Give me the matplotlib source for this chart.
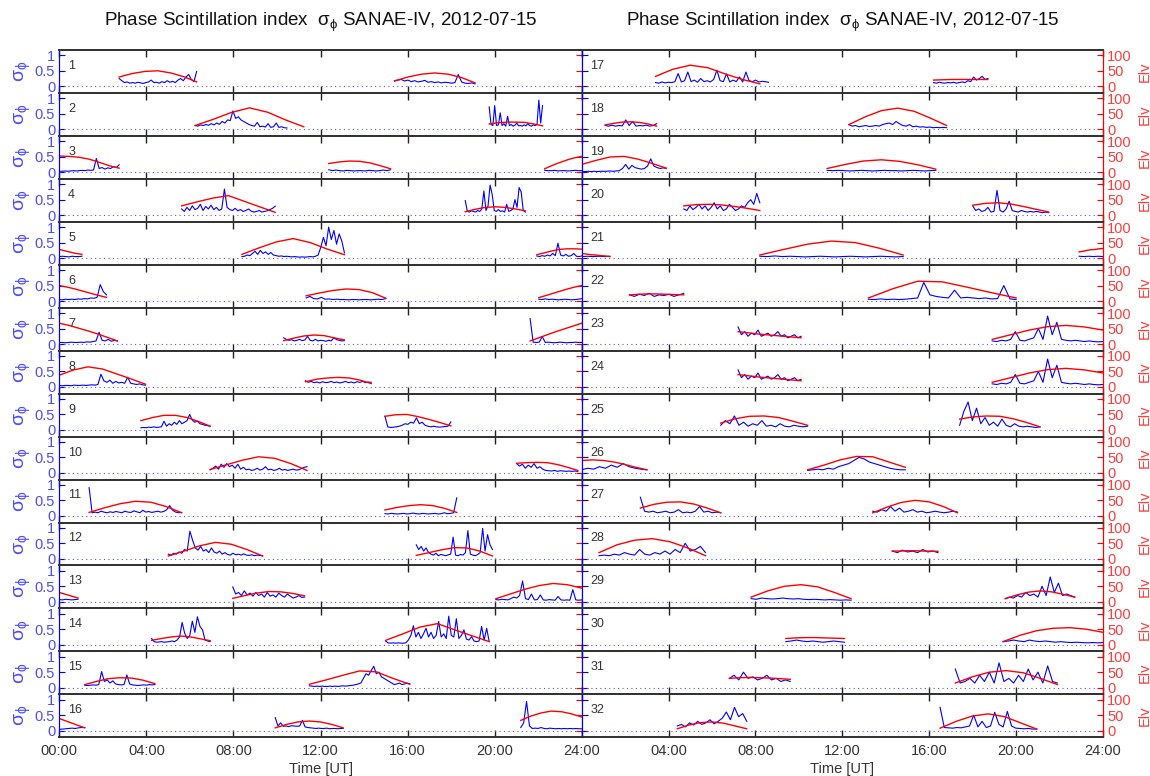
import numpy as np
import matplotlib
matplotlib.use("Agg")
import matplotlib.pyplot as plt

plt.rcParams['font.family'] = ['Liberation Sans', 'DejaVu Sans']
plt.rcParams['mathtext.default'] = 'regular'

# ---------------------------------------------------------------------------
# Per-panel data (one panel per satellite PRN 1..32)
#   te_NN : (start, end) hour of each elevation arc
#   el_NN : elevation samples [deg], evenly spaced over the arc
#   ts_NN : (start, end) hour of each sigma_phi trace
#   sg_NN : sigma_phi samples [rad], evenly spaced over the trace
# ---------------------------------------------------------------------------
te_01 = [(2.75, 6.31), (15.4, 19.1)]
el_01 = [[30, 41, 48, 50, 43, 31, 14], [17, 30, 39, 43, 39, 28, 11]]
ts_01 = [(2.75, 6.31), (15.4, 19.1)]
sg_01 = [[0.25, 0.18, 0.12, 0.14, 0.10, 0.12, 0.10, 0.13, 0.11, 0.09, 0.12, 0.14, 0.20, 0.12, 0.13,
          0.10, 0.15, 0.12, 0.18, 0.13, 0.16, 0.12, 0.20, 0.25, 0.18, 0.30, 0.38, 0.22, 0.15, 0.48],
         [0.18, 0.20, 0.22, 0.17, 0.20, 0.15, 0.18, 0.14, 0.16, 0.19, 0.13, 0.15, 0.12, 0.14, 0.11,
          0.13, 0.12, 0.10, 0.12, 0.38, 0.14, 0.10, 0.09, 0.11, 0.08]]

te_02 = [(6.24, 11.23), (19.75, 22.2)]
el_02 = [[12, 32, 54, 69, 55, 30, 8], [17, 21, 23, 23, 22, 17, 11]]
ts_02 = [(6.24, 10.46), (19.75, 22.2)]
sg_02 = [[0.12, 0.10, 0.14, 0.12, 0.15, 0.13, 0.18, 0.14, 0.20, 0.16, 0.25, 0.20, 0.30, 0.28, 0.59,
          0.35, 0.40, 0.30, 0.25, 0.20, 0.15, 0.12, 0.10, 0.22, 0.08, 0.10, 0.07, 0.18, 0.06, 0.08,
          0.20, 0.06, 0.08, 0.05, 0.04],
         [0.72, 0.15, 0.12, 0.76, 0.12, 0.14, 0.53, 0.12, 0.18, 0.10, 0.42, 0.12, 0.15, 0.10, 0.13,
          0.20, 0.11, 0.12, 0.10, 0.14, 0.11, 0.18, 0.12, 0.10, 0.14, 0.12, 0.15, 0.94, 0.20, 0.76]]

te_03 = [(0.0, 2.75), (12.38, 15.22), (22.3, 24.0)]
el_03 = [[52, 51, 48, 42, 32, 21, 13], [28, 33, 36, 35, 30, 21, 11], [11, 20, 28, 35, 42, 47, 51]]
ts_03 = [(0.0, 2.75), (12.38, 15.22), (22.3, 24.0)]
sg_03 = [[0.03, 0.03, 0.04, 0.03, 0.04, 0.05, 0.04, 0.05, 0.06, 0.05, 0.07, 0.06, 0.07, 0.44, 0.12,
          0.15, 0.10, 0.14, 0.12, 0.18, 0.15, 0.24],
         [0.08, 0.05, 0.07, 0.05, 0.04, 0.06, 0.05, 0.04, 0.05, 0.05, 0.04, 0.06, 0.05, 0.04, 0.05,
          0.07, 0.05, 0.08],
         [0.06, 0.05, 0.05, 0.06, 0.04, 0.05, 0.05, 0.04, 0.05, 0.06, 0.05, 0.05]]

te_04 = [(5.62, 9.92), (18.65, 21.41)]
el_04 = [[30, 43, 55, 63, 45, 27, 9], [11, 19, 25, 27, 25, 20, 14]]
ts_04 = [(5.62, 9.92), (18.65, 21.41)]
sg_04 = [[0.20, 0.12, 0.25, 0.15, 0.30, 0.18, 0.22, 0.35, 0.15, 0.28, 0.20, 0.32, 0.18, 0.25, 0.15,
          0.20, 0.84, 0.25, 0.18, 0.15, 0.22, 0.14, 0.18, 0.12, 0.15, 0.20, 0.13, 0.10, 0.12, 0.15,
          0.10, 0.12, 0.14, 0.18, 0.22, 0.29],
         [0.47, 0.12, 0.10, 0.14, 0.12, 0.10, 0.15, 0.12, 0.20, 0.78, 0.15, 0.30, 0.97, 0.67, 0.15,
          0.12, 0.18, 0.12, 0.14, 0.10, 0.35, 0.12, 0.15, 0.20, 0.50, 0.25, 0.89, 0.75, 0.15, 0.10]]

te_05 = [(0.0, 1.04), (8.39, 13.1), (21.94, 24.0)]
el_05 = [[28, 25, 22, 19, 16, 14, 12], [12, 33, 52, 63, 50, 29, 11], [11, 17, 23, 28, 30, 30, 29]]
ts_05 = [(0.0, 1.04), (8.39, 13.1), (21.94, 24.0)]
sg_05 = [[0.05, 0.06, 0.05, 0.04, 0.06, 0.05, 0.05, 0.06],
         [0.05, 0.06, 0.10, 0.08, 0.15, 0.22, 0.12, 0.25, 0.15, 0.20, 0.12, 0.18, 0.10, 0.08, 0.06,
          0.07, 0.05, 0.06, 0.05, 0.04, 0.05, 0.04, 0.03, 0.04, 0.03, 0.04, 0.05, 0.04, 0.06, 0.10,
          0.35, 0.67, 0.40, 1.00, 0.60, 0.89, 0.45, 0.78, 0.55, 0.17],
         [0.07, 0.05, 0.08, 0.06, 0.10, 0.07, 0.15, 0.08, 0.48, 0.10, 0.07, 0.12, 0.06, 0.08, 0.15,
          0.06, 0.05, 0.07]]

te_06 = [(0.0, 2.17), (11.34, 15.0), (22.03, 24.0)]
el_06 = [[50, 45, 39, 32, 25, 18, 12], [17, 26, 34, 39, 37, 27, 9], [11, 18, 25, 32, 39, 45, 50]]
ts_06 = [(0.0, 2.17), (11.34, 15.0), (22.03, 24.0)]
sg_06 = [[0.05, 0.04, 0.06, 0.05, 0.06, 0.05, 0.07, 0.06, 0.08, 0.07, 0.10, 0.09, 0.12, 0.53, 0.30, 0.20],
         [0.10, 0.15, 0.08, 0.07, 0.12, 0.06, 0.07, 0.05, 0.06, 0.05, 0.05, 0.04, 0.05, 0.05, 0.04,
          0.05, 0.05, 0.04, 0.05, 0.06, 0.05, 0.08],
         [0.06, 0.05, 0.07, 0.05, 0.06, 0.05, 0.04, 0.05, 0.06, 0.05, 0.04, 0.05, 0.06, 0.08]]

te_07 = [(0.0, 2.67), (10.31, 13.1), (21.63, 24.0)]
el_07 = [[67, 60, 51, 42, 32, 21, 10], [11, 19, 26, 29, 27, 20, 13], [10, 20, 30, 40, 49, 58, 67]]
ts_07 = [(0.0, 2.67), (10.31, 13.1), (21.63, 24.0)]
sg_07 = [[0.05, 0.05, 0.04, 0.05, 0.06, 0.05, 0.05, 0.06, 0.05, 0.07, 0.06, 0.08, 0.10, 0.38, 0.12,
          0.10, 0.15, 0.09, 0.12, 0.10],
         [0.20, 0.15, 0.12, 0.14, 0.10, 0.12, 0.15, 0.11, 0.13, 0.25, 0.12, 0.10, 0.15, 0.10, 0.12,
          0.11, 0.09, 0.12, 0.10, 0.20, 0.14, 0.12, 0.10, 0.11],
         [0.82, 0.06, 0.05, 0.06, 0.24, 0.05, 0.06, 0.05, 0.04, 0.05, 0.06, 0.05, 0.04, 0.05, 0.05,
          0.06, 0.05, 0.05]]

te_08 = [(0.0, 3.96), (11.31, 14.33)]
el_08 = [[38, 55, 65, 58, 42, 26, 9], [17, 25, 29, 31, 29, 22, 11]]
ts_08 = [(0.0, 3.96), (11.31, 14.33)]
sg_08 = [[0.05, 0.04, 0.05, 0.05, 0.04, 0.06, 0.05, 0.05, 0.06, 0.05, 0.06, 0.07, 0.06, 0.08, 0.41,
          0.20, 0.15, 0.22, 0.12, 0.18, 0.13, 0.15, 0.12, 0.31, 0.12, 0.10, 0.08, 0.10, 0.07, 0.06],
         [0.20, 0.15, 0.18, 0.14, 0.16, 0.13, 0.17, 0.14, 0.15, 0.18, 0.14, 0.16, 0.13, 0.15, 0.18,
          0.14, 0.16, 0.13, 0.17, 0.15, 0.18, 0.14, 0.16, 0.15]]

te_09 = [(3.75, 6.93), (14.96, 17.99)]
el_09 = [[30, 40, 47, 47, 40, 27, 12], [44, 49, 50, 43, 34, 24, 13]]
ts_09 = [(3.75, 6.93), (14.96, 17.99)]
sg_09 = [[0.07, 0.08, 0.07, 0.09, 0.08, 0.10, 0.08, 0.09, 0.10, 0.28, 0.12, 0.20, 0.15, 0.25, 0.18,
          0.30, 0.20, 0.25, 0.30, 0.50, 0.32, 0.25, 0.28, 0.20, 0.18, 0.15, 0.14, 0.12],
         [0.44, 0.10, 0.08, 0.09, 0.10, 0.12, 0.15, 0.20, 0.18, 0.25, 0.22, 0.39, 0.20, 0.25, 0.15,
          0.12, 0.10, 0.12, 0.10, 0.09, 0.10, 0.11, 0.12, 0.26]]

te_10 = [(6.93, 11.38), (21.01, 23.82)]
el_10 = [[11, 26, 41, 52, 47, 30, 8], [31, 33, 34, 33, 27, 18, 8]]
ts_10 = [(6.93, 11.38), (21.01, 23.82)]
sg_10 = [[0.10, 0.15, 0.22, 0.12, 0.28, 0.18, 0.30, 0.20, 0.25, 0.15, 0.28, 0.12, 0.18, 0.10, 0.12,
          0.08, 0.10, 0.15, 0.09, 0.12, 0.20, 0.10, 0.12, 0.08, 0.10, 0.15, 0.09, 0.11, 0.08, 0.10,
          0.12, 0.09, 0.10, 0.14, 0.18, 0.20],
         [0.30, 0.22, 0.28, 0.15, 0.25, 0.18, 0.30, 0.15, 0.20, 0.12, 0.08, 0.07, 0.06, 0.08, 0.05,
          0.07, 0.06, 0.05, 0.06, 0.05, 0.06, 0.05]]

te_11 = [(1.37, 5.62), (14.96, 18.26)]
el_11 = [[11, 26, 39, 47, 44, 30, 10], [19, 27, 33, 36, 33, 24, 11]]
ts_11 = [(1.37, 5.62), (14.96, 18.26)]
sg_11 = [[0.91, 0.10, 0.12, 0.10, 0.15, 0.12, 0.10, 0.13, 0.11, 0.14, 0.12, 0.10, 0.15, 0.12, 0.11,
          0.16, 0.13, 0.10, 0.18, 0.12, 0.14, 0.11, 0.13, 0.15, 0.12, 0.14, 0.20, 0.33, 0.18, 0.12,
          0.10, 0.11],
         [0.07, 0.06, 0.08, 0.07, 0.06, 0.07, 0.08, 0.06, 0.07, 0.09, 0.07, 0.06, 0.08, 0.07, 0.06,
          0.07, 0.08, 0.06, 0.07, 0.10, 0.07, 0.08, 0.10, 0.58]]

te_12 = [(5.01, 9.34), (16.4, 19.9)]
el_12 = [[9, 25, 42, 53, 47, 30, 9], [11, 20, 29, 36, 35, 25, 9]]
ts_12 = [(5.01, 9.34), (16.4, 19.9)]
sg_12 = [[0.15, 0.12, 0.18, 0.15, 0.22, 0.18, 0.30, 0.25, 0.89, 0.60, 0.35, 0.28, 0.40, 0.25, 0.30,
          0.20, 0.35, 0.22, 0.18, 0.25, 0.15, 0.20, 0.14, 0.12, 0.18, 0.13, 0.15, 0.12, 0.16, 0.12,
          0.11, 0.13, 0.10, 0.12, 0.11, 0.10],
         [0.45, 0.30, 0.40, 0.25, 0.35, 0.20, 0.15, 0.12, 0.18, 0.10, 0.14, 0.12, 0.10, 0.13, 0.15,
          0.70, 0.12, 0.10, 0.14, 0.12, 0.20, 0.91, 0.15, 0.12, 0.10, 0.14, 0.20, 0.98, 0.25, 0.78,
          0.45, 0.30]]

te_13 = [(0.0, 0.86), (7.97, 11.27), (20.06, 24.0)]
el_13 = [[30, 27, 24, 21, 18, 15, 12], [11, 20, 28, 33, 32, 27, 19], [10, 25, 40, 52, 59, 55, 44]]
ts_13 = [(0.0, 0.86), (7.97, 11.27), (20.06, 24.0)]
sg_13 = [[0.07, 0.06, 0.08, 0.07, 0.06, 0.07, 0.08],
         [0.48, 0.25, 0.30, 0.20, 0.35, 0.22, 0.28, 0.18, 0.30, 0.20, 0.25, 0.15, 0.30, 0.18, 0.22,
          0.15, 0.28, 0.20, 0.15, 0.25, 0.18, 0.12, 0.15, 0.20, 0.14, 0.15],
         [0.07, 0.06, 0.08, 0.07, 0.06, 0.10, 0.15, 0.12, 0.20, 0.67, 0.10, 0.07, 0.25, 0.06, 0.07,
          0.22, 0.06, 0.05, 0.07, 0.06, 0.05, 0.17, 0.06, 0.05, 0.06, 0.05, 0.39, 0.06, 0.05, 0.06]]

te_14 = [(4.24, 6.93), (14.99, 19.75)]
el_14 = [[14, 20, 25, 28, 25, 19, 13], [14, 35, 57, 68, 48, 29, 10]]
ts_14 = [(4.24, 6.93), (14.99, 19.75)]
sg_14 = [[0.20, 0.10, 0.08, 0.09, 0.10, 0.08, 0.09, 0.10, 0.12, 0.10, 0.15, 0.25, 0.72, 0.37, 0.20,
          0.30, 0.76, 0.40, 0.90, 0.59, 0.48, 0.15, 0.12, 0.10],
         [0.12, 0.06, 0.05, 0.06, 0.05, 0.06, 0.05, 0.05, 0.06, 0.15, 0.30, 0.61, 0.25, 0.40, 0.20,
          0.35, 0.53, 0.25, 0.40, 0.20, 0.30, 0.75, 0.25, 0.35, 0.20, 0.92, 0.30, 0.25, 0.84, 0.20,
          0.30, 0.48, 0.18, 0.15, 0.26, 0.12, 0.10, 0.12, 0.59, 0.15, 0.53, 0.10]]

te_15 = [(1.17, 4.39), (11.49, 16.1)]
el_15 = [[10, 20, 29, 32, 31, 24, 13], [11, 25, 40, 54, 51, 30, 11]]
ts_15 = [(1.17, 4.39), (11.49, 16.1)]
sg_15 = [[0.08, 0.07, 0.08, 0.09, 0.08, 0.10, 0.52, 0.20, 0.25, 0.15, 0.22, 0.12, 0.10, 0.09, 0.10,
          0.41, 0.12, 0.09, 0.08, 0.07, 0.08, 0.09, 0.08, 0.10, 0.09, 0.10],
         [0.06, 0.05, 0.04, 0.05, 0.04, 0.05, 0.04, 0.04, 0.05, 0.04, 0.05, 0.04, 0.05, 0.06, 0.05,
          0.06, 0.07, 0.08, 0.10, 0.12, 0.15, 0.30, 0.45, 0.40, 0.55, 0.69, 0.45, 0.50, 0.35, 0.30,
          0.25, 0.20, 0.15, 0.10, 0.12, 0.15, 0.10, 0.12, 0.15, 0.12]]

te_16 = [(0.0, 1.17), (9.92, 13.04), (21.2, 24.0)]
el_16 = [[39, 34, 29, 24, 19, 14, 9], [9, 20, 28, 31, 28, 20, 9], [33, 47, 57, 63, 61, 54, 44]]
ts_16 = [(0.0, 1.17), (9.92, 13.04), (21.2, 24.0)]
sg_16 = [[0.04, 0.05, 0.06, 0.07, 0.08, 0.07, 0.09, 0.10, 0.10],
         [0.42, 0.15, 0.25, 0.14, 0.15, 0.13, 0.16, 0.15, 0.14, 0.15, 0.33, 0.12, 0.10, 0.09, 0.08,
          0.07, 0.08, 0.07, 0.07, 0.08, 0.06, 0.07, 0.07, 0.06, 0.07, 0.07],
         [0.10, 0.25, 0.94, 0.15, 0.07, 0.08, 0.07, 0.10, 0.07, 0.06, 0.08, 0.07, 0.06, 0.07, 0.06,
          0.07, 0.06, 0.07, 0.06, 0.07, 0.06, 0.06]]

te_17 = [(3.4, 8.2), (16.2, 18.7)]
el_17 = [[32, 55, 68, 60, 40, 22, 8], [20, 21, 22, 22, 22, 22, 22]]
ts_17 = [(3.4, 8.6), (16.2, 18.7)]
sg_17 = [[0.12, 0.10, 0.14, 0.11, 0.13, 0.12, 0.15, 0.41, 0.14, 0.18, 0.46, 0.15, 0.20, 0.13, 0.25,
          0.15, 0.18, 0.14, 0.22, 0.52, 0.18, 0.15, 0.40, 0.14, 0.20, 0.15, 0.30, 0.14, 0.46, 0.18,
          0.15, 0.20, 0.14, 0.16, 0.15, 0.13],
         [0.12, 0.10, 0.13, 0.11, 0.10, 0.12, 0.11, 0.13, 0.10, 0.12, 0.14, 0.12, 0.18, 0.15, 0.30,
          0.20, 0.25, 0.32, 0.22, 0.25]]

te_18 = [(1.08, 3.45), (12.3, 16.8)]
el_18 = [[14, 19, 23, 24, 22, 17, 10], [15, 40, 60, 68, 58, 36, 12]]
ts_18 = [(1.08, 3.45), (12.3, 16.8)]
sg_18 = [[0.12, 0.10, 0.13, 0.10, 0.12, 0.11, 0.30, 0.12, 0.25, 0.10, 0.12, 0.11, 0.13, 0.10, 0.12, 0.18],
         [0.15, 0.10, 0.12, 0.08, 0.10, 0.12, 0.09, 0.10, 0.12, 0.10, 0.15, 0.18, 0.20, 0.15, 0.25,
          0.18, 0.12, 0.10, 0.15, 0.08, 0.10, 0.07, 0.08, 0.06, 0.07, 0.05, 0.06, 0.05, 0.06, 0.05]]

te_19 = [(0.0, 3.9), (11.3, 16.3)]
el_19 = [[25, 38, 49, 51, 42, 28, 13], [12, 25, 36, 40, 35, 24, 10]]
ts_19 = [(0.0, 3.9), (11.3, 16.3)]
sg_19 = [[0.02, 0.02, 0.03, 0.02, 0.03, 0.02, 0.03, 0.03, 0.03, 0.04, 0.03, 0.04, 0.05, 0.12, 0.25,
          0.10, 0.22, 0.15, 0.12, 0.10, 0.12, 0.20, 0.43, 0.20, 0.15, 0.12, 0.14, 0.12],
         [0.06, 0.05, 0.06, 0.05, 0.04, 0.05, 0.06, 0.05, 0.04, 0.05, 0.06, 0.05, 0.05, 0.04, 0.05,
          0.06, 0.05, 0.04, 0.05, 0.06]]

te_20 = [(4.7, 8.2), (18.0, 21.5)]
el_20 = [[30, 34, 35, 33, 28, 22, 15], [32, 38, 40, 36, 28, 19, 10]]
ts_20 = [(4.7, 8.2), (18.0, 21.5)]
sg_20 = [[0.20, 0.15, 0.30, 0.18, 0.25, 0.35, 0.20, 0.30, 0.15, 0.25, 0.40, 0.20, 0.30, 0.15, 0.20,
          0.35, 0.25, 0.15, 0.20, 0.30, 0.25, 0.40, 0.50, 0.35, 0.70, 0.40],
         [0.30, 0.15, 0.20, 0.12, 0.15, 0.25, 0.10, 0.12, 0.80, 0.15, 0.10, 0.20, 0.45, 0.15, 0.12,
          0.10, 0.15, 0.12, 0.10, 0.12, 0.10, 0.12, 0.10, 0.08, 0.10, 0.08]]

te_21 = [(0.0, 1.3), (8.2, 14.8), (22.9, 24.0)]
el_21 = [[15, 13, 11, 10, 8, 7, 5], [10, 28, 45, 55, 50, 32, 10], [20, 22, 25, 27, 28, 30, 31]]
ts_21 = [(0.0, 1.3), (8.2, 14.8), (22.9, 24.0)]
sg_21 = [[0.05, 0.06, 0.05, 0.06, 0.05, 0.06],
         [0.06, 0.05, 0.07, 0.05, 0.06, 0.05, 0.04, 0.05, 0.06, 0.05, 0.04, 0.05, 0.06, 0.05, 0.04,
          0.05, 0.06, 0.05, 0.04, 0.05],
         [0.06, 0.05, 0.06, 0.05, 0.06, 0.05]]

te_22 = [(2.2, 4.7), (13.2, 20.0)]
el_22 = [[20, 22, 23, 23, 22, 21, 20], [10, 40, 64, 62, 45, 27, 10]]
ts_22 = [(2.2, 4.7), (13.2, 20.0)]
sg_22 = [[0.20, 0.15, 0.22, 0.18, 0.25, 0.15, 0.20, 0.18, 0.22, 0.15, 0.20, 0.25],
         [0.06, 0.05, 0.07, 0.05, 0.06, 0.05, 0.06, 0.08, 0.10, 0.60, 0.20, 0.15, 0.12, 0.10, 0.35,
          0.10, 0.12, 0.10, 0.08, 0.10, 0.07, 0.08, 0.50, 0.07, 0.05]]

te_23 = [(7.2, 10.1), (18.9, 24.0)]
el_23 = [[40, 36, 32, 29, 26, 23, 20], [15, 30, 45, 56, 60, 55, 45]]
ts_23 = [(7.2, 10.1), (18.9, 24.0)]
sg_23 = [[0.55, 0.30, 0.40, 0.25, 0.35, 0.30, 0.45, 0.25, 0.30, 0.35, 0.25, 0.30, 0.40, 0.25, 0.30,
          0.20, 0.25, 0.30, 0.20, 0.25],
         [0.10, 0.08, 0.12, 0.10, 0.15, 0.40, 0.12, 0.10, 0.15, 0.20, 0.50, 0.15, 0.90, 0.30, 0.70,
          0.15, 0.12, 0.10, 0.12, 0.10, 0.08, 0.10, 0.08, 0.07, 0.08]]

te_24 = [(7.2, 10.1), (18.9, 24.0)]
el_24 = [[40, 36, 32, 29, 26, 23, 20], [15, 30, 45, 56, 60, 55, 45]]
ts_24 = [(7.2, 10.1), (18.9, 24.0)]
sg_24 = [[0.55, 0.30, 0.40, 0.25, 0.35, 0.30, 0.45, 0.25, 0.30, 0.35, 0.25, 0.30, 0.40, 0.25, 0.30,
          0.20, 0.25, 0.30, 0.20, 0.25],
         [0.10, 0.08, 0.12, 0.10, 0.15, 0.40, 0.12, 0.10, 0.15, 0.20, 0.50, 0.15, 0.90, 0.30, 0.70,
          0.15, 0.12, 0.10, 0.12, 0.10, 0.08, 0.10, 0.08, 0.07, 0.08]]

te_25 = [(6.4, 10.4), (17.4, 21.1)]
el_25 = [[22, 36, 44, 45, 40, 28, 15], [35, 42, 45, 44, 36, 24, 10]]
ts_25 = [(6.4, 10.4), (17.4, 21.1)]
sg_25 = [[0.15, 0.30, 0.20, 0.45, 0.15, 0.25, 0.12, 0.20, 0.15, 0.30, 0.12, 0.15, 0.10, 0.20, 0.12,
          0.10, 0.15, 0.12, 0.10, 0.12],
         [0.15, 0.60, 0.90, 0.30, 0.70, 0.20, 0.40, 0.15, 0.25, 0.12, 0.35, 0.15, 0.10, 0.20, 0.12,
          0.10, 0.12, 0.10, 0.08, 0.10]]

te_26 = [(0.0, 3.0), (10.4, 14.9)]
el_26 = [[40, 42, 40, 35, 27, 18, 10], [10, 25, 42, 53, 52, 35, 18]]
ts_26 = [(0.0, 3.0), (10.4, 14.9)]
sg_26 = [[0.10, 0.15, 0.12, 0.20, 0.15, 0.25, 0.18, 0.30, 0.20, 0.15, 0.12, 0.10],
         [0.08, 0.10, 0.12, 0.10, 0.15, 0.12, 0.20, 0.25, 0.30, 0.40, 0.50, 0.45, 0.35, 0.30, 0.25,
          0.20, 0.15, 0.12, 0.10, 0.10]]

te_27 = [(2.7, 6.4), (13.4, 17.3)]
el_27 = [[25, 37, 44, 45, 38, 25, 10], [10, 28, 43, 50, 45, 30, 10]]
ts_27 = [(2.7, 6.4), (13.4, 17.3)]
sg_27 = [[0.60, 0.15, 0.12, 0.15, 0.10, 0.12, 0.15, 0.10, 0.12, 0.20, 0.10, 0.12, 0.10, 0.15, 0.30,
          0.12, 0.15, 0.10, 0.12, 0.10],
         [0.15, 0.12, 0.20, 0.15, 0.30, 0.15, 0.25, 0.12, 0.15, 0.20, 0.12, 0.15, 0.10, 0.12, 0.15,
          0.12, 0.10, 0.12, 0.15, 0.12]]

te_28 = [(0.8, 5.7), (14.3, 16.4)]
el_28 = [[20, 45, 60, 65, 55, 35, 10], [25, 25, 26, 26, 25, 25, 24]]
ts_28 = [(0.8, 5.7), (14.3, 16.4)]
sg_28 = [[0.10, 0.12, 0.10, 0.15, 0.12, 0.20, 0.15, 0.12, 0.30, 0.15, 0.12, 0.20, 0.15, 0.25, 0.15,
          0.30, 0.20, 0.50, 0.25, 0.30, 0.40, 0.20],
         [0.25, 0.20, 0.28, 0.22, 0.25, 0.20, 0.30, 0.22, 0.25, 0.20]]

te_29 = [(7.8, 12.4), (19.5, 22.7)]
el_29 = [[15, 35, 50, 55, 48, 30, 10], [10, 22, 31, 35, 32, 24, 15]]
ts_29 = [(7.8, 12.4), (19.5, 22.7)]
sg_29 = [[0.10, 0.08, 0.12, 0.10, 0.09, 0.10, 0.12, 0.10, 0.09, 0.10, 0.08, 0.07, 0.08, 0.07, 0.06,
          0.07, 0.06, 0.05, 0.06, 0.05],
         [0.10, 0.15, 0.12, 0.20, 0.15, 0.30, 0.20, 0.25, 0.15, 0.50, 0.20, 0.80, 0.30, 0.60, 0.20,
          0.25, 0.20, 0.15]]

te_30 = [(9.4, 12.1), (19.4, 24.0)]
el_30 = [[20, 22, 23, 23, 22, 21, 20], [10, 30, 45, 53, 55, 50, 40]]
ts_30 = [(9.4, 12.1), (19.4, 24.0)]
sg_30 = [[0.10, 0.12, 0.15, 0.12, 0.10, 0.12, 0.10, 0.08, 0.10, 0.12, 0.10, 0.08],
         [0.10, 0.12, 0.15, 0.12, 0.10, 0.15, 0.12, 0.10, 0.12, 0.10, 0.08, 0.10, 0.08, 0.07, 0.08,
          0.07, 0.06, 0.07, 0.06, 0.07]]

te_31 = [(6.8, 9.6), (17.2, 21.9)]
el_31 = [[30, 32, 33, 32, 31, 29, 27], [15, 35, 50, 55, 48, 30, 10]]
ts_31 = [(6.8, 9.6), (17.2, 21.9)]
sg_31 = [[0.30, 0.40, 0.25, 0.50, 0.30, 0.35, 0.25, 0.30, 0.40, 0.25, 0.30, 0.20, 0.25, 0.20],
         [0.60, 0.15, 0.20, 0.30, 0.15, 0.40, 0.20, 0.50, 0.15, 0.80, 0.20, 0.30, 0.15, 0.40, 0.20,
          0.60, 0.25, 0.50, 0.15, 0.70, 0.20, 0.15]]

te_32 = [(4.4, 7.6), (16.5, 20.95)]
el_32 = [[6, 18, 26, 28, 24, 15, 6], [8, 30, 47, 54, 45, 25, 5]]
ts_32 = [(4.4, 7.6), (16.5, 20.95)]
sg_32 = [[0.15, 0.20, 0.12, 0.25, 0.18, 0.30, 0.20, 0.25, 0.35, 0.22, 0.30, 0.40, 0.60, 0.35, 0.75,
          0.45, 0.55, 0.30],
         [0.75, 0.10, 0.09, 0.08, 0.10, 0.09, 0.12, 0.15, 0.50, 0.12, 0.30, 0.10, 0.15, 0.59, 0.20,
          0.12, 0.62, 0.15, 0.08, 0.07, 0.06, 0.07, 0.05, 0.05]]

TE = [te_01, te_02, te_03, te_04, te_05, te_06, te_07, te_08, te_09, te_10, te_11, te_12, te_13,
      te_14, te_15, te_16, te_17, te_18, te_19, te_20, te_21, te_22, te_23, te_24, te_25, te_26,
      te_27, te_28, te_29, te_30, te_31, te_32]
EL = [el_01, el_02, el_03, el_04, el_05, el_06, el_07, el_08, el_09, el_10, el_11, el_12, el_13,
      el_14, el_15, el_16, el_17, el_18, el_19, el_20, el_21, el_22, el_23, el_24, el_25, el_26,
      el_27, el_28, el_29, el_30, el_31, el_32]
TS = [ts_01, ts_02, ts_03, ts_04, ts_05, ts_06, ts_07, ts_08, ts_09, ts_10, ts_11, ts_12, ts_13,
      ts_14, ts_15, ts_16, ts_17, ts_18, ts_19, ts_20, ts_21, ts_22, ts_23, ts_24, ts_25, ts_26,
      ts_27, ts_28, ts_29, ts_30, ts_31, ts_32]
SG = [sg_01, sg_02, sg_03, sg_04, sg_05, sg_06, sg_07, sg_08, sg_09, sg_10, sg_11, sg_12, sg_13,
      sg_14, sg_15, sg_16, sg_17, sg_18, sg_19, sg_20, sg_21, sg_22, sg_23, sg_24, sg_25, sg_26,
      sg_27, sg_28, sg_29, sg_30, sg_31, sg_32]

hour_ticks = [0, 4, 8, 12, 16, 20, 24]
hour_labels = ['00:00', '04:00', '08:00', '12:00', '16:00', '20:00', '24:00']
sig_ticks = [0, 0.5, 1]
sig_labels = ['0', '0.5', '1']
elv_ticks = [0, 50, 100]
elv_labels = ['0', '50', '100']

title = r'Phase Scintillation index  $\sigma_\phi$ SANAE-IV, 2012-07-15'

# ---------------------------------------------------------------------------
W, H = 1150, 776
fig = plt.figure(figsize=(W / 100, H / 100), dpi=100)

BLUE = '#0000ff'
RED = '#ff0000'
LBLUE = '#4b4bff'
LRED = '#ff3c3c'
SPINE = '#333333'

col_x = [59.3 / W, 581.7 / W]
col_w = [(581.7 - 59.3) / W, (1103.0 - 581.7) / W]
top = 1 - 50.0 / H
bot = 1 - 737.3 / H
ph = (top - bot) / 16
YLO, YHI = -0.215, 1.17

for k in range(32):
    col, row = divmod(k, 16)
    ax = fig.add_axes([col_x[col], top - (row + 1) * ph, col_w[col], ph])
    ax2 = ax.twinx()
    ax.set_xlim(0, 24)
    ax.set_ylim(YLO, YHI)
    ax2.set_ylim(YLO * 100, YHI * 100)

    ax.axhline(0, color='#5555ff', ls=(0, (1, 3)), lw=0.8)
    for (a, b), s in zip(TS[k], SG[k]):
        ax.plot(np.linspace(a, b, len(s)), s, color=BLUE, lw=0.8)
    for (a, b), e in zip(TE[k], EL[k]):
        ax2.plot(np.linspace(a, b, len(e)), e, color=RED, lw=1.0)

    ax.text(0.017, 0.63, str(k + 1), transform=ax.transAxes, fontsize=9,
            color='#333333', ha='left', va='center')

    # spines
    for a_ in (ax, ax2):
        a_.spines['top'].set_color(SPINE)
        a_.spines['bottom'].set_color(SPINE)
        a_.spines['top'].set_linewidth(1.3)
        a_.spines['bottom'].set_linewidth(1.3)
    ax2.spines['left'].set_color(BLUE)
    ax2.spines['right'].set_color(RED)
    ax.spines['left'].set_color(BLUE)
    ax.spines['right'].set_color(RED)

    ax.set_xticks(hour_ticks)
    ax.tick_params(axis='x', direction='in', length=5, width=1.0, color='#222222',
                   top=True, bottom=True, labelsize=10.5, labelcolor='#333333', pad=5)
    if row == 15:
        labels = hour_labels if col == 0 else [''] + hour_labels[1:]
        ax.set_xticklabels(labels)
        ax.set_xlabel('Time [UT]', fontsize=10.5, color='#333333', labelpad=3)
    else:
        ax.set_xticklabels([])
    ax2.tick_params(axis='x', which='both', top=False, bottom=False)

    ax.set_yticks(sig_ticks)
    ax2.set_yticks(elv_ticks)
    ax.tick_params(axis='y', direction='in', length=4, color=BLUE, labelsize=10.5,
                   labelcolor=LBLUE, pad=3)
    ax2.tick_params(axis='y', direction='in', length=4, color=RED, labelsize=10.5,
                    labelcolor=LRED, pad=3)
    if col == 0:
        ax.set_yticklabels(sig_labels)
        ax.set_ylabel(r'$\sigma_\phi$', color=LBLUE, fontsize=14, labelpad=1)
        ax2.set_yticklabels([])
    else:
        ax.set_yticklabels([])
        ax2.set_yticklabels(elv_labels)
        ax2.set_ylabel('Elv', color=LRED, fontsize=10.5, labelpad=4)

for col in range(2):
    cx = col_x[col] + col_w[col] / 2
    fig.text(cx, 1 - 22.0 / H, title, ha='center', va='center', fontsize=13.5, color='#111111')

fig.savefig('out.png', dpi=100)
